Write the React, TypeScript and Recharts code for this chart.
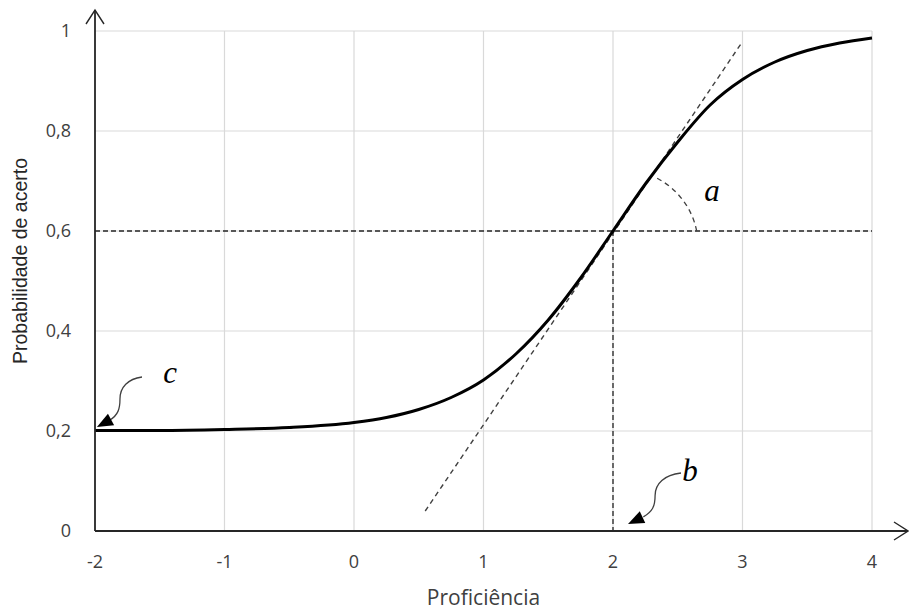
import React from 'react';
import {
  LineChart,
  Line,
  XAxis,
  YAxis,
  CartesianGrid,
  ReferenceLine,
  ReferenceDot
} from 'recharts';

// ability values (x) and probability of a correct answer
const proficiencia = [-2, -1.5, -1, -0.5, 0, 0.25, 0.5, 0.75, 1, 1.25, 1.5, 1.75, 2, 2.25, 2.5, 2.75, 3, 3.25, 3.5, 3.75, 4];
const probabilidade = [0.201, 0.201, 0.203, 0.207, 0.217, 0.227, 0.243, 0.267, 0.302, 0.354, 0.422, 0.506, 0.6, 0.694, 0.778, 0.852, 0.903, 0.938, 0.961, 0.976, 0.986];

const xTicks = [-2, -1, 0, 1, 2, 3, 4];
const yTicks = [0, 0.2, 0.4, 0.6, 0.8, 1];

// item parameters shown on the chart
const paramB = 2;
const paramP = 0.6;
const tangentStart = { x: 0.55, y: 0.04 };
const tangentEnd = { x: 2.99, y: 0.975 };
const arcStart = { x: 2.646, y: 0.6 };
const arcEnd = { x: 2.337, y: 0.706 };

// annotation arrows: start of the squiggle -> arrow tip
const arrowC = [{ x: -1.637, y: 0.308 }, { x: -1.985, y: 0.208 }];
const arrowB = [{ x: 2.525, y: 0.116 }, { x: 2.116, y: 0.014 }];
const letters = [
  { text: 'a', x: 2.764, y: 0.682 },
  { text: 'b', x: 2.595, y: 0.122 },
  { text: 'c', x: -1.42, y: 0.318 }
];

const chartData = proficiencia.map((x, i) => ({ x, p: probabilidade[i] }));

const AxisArrow = (props: any) => {
  const { x1, y1, x2, y2 } = props;
  const dx = x2 - x1;
  const dy = y2 - y1;
  const len = Math.sqrt(dx * dx + dy * dy) || 1;
  const ux = dx / len;
  const uy = dy / len;
  const back = 14;
  const half = 9;
  const bx = x2 - ux * back;
  const by = y2 - uy * back;
  return (
    <g>
      <line x1={x1} y1={y1} x2={x2} y2={y2} stroke="#262626" strokeWidth={1.8} />
      <polyline
        points={`${bx - uy * half},${by + ux * half} ${x2},${y2} ${bx + uy * half},${by - ux * half}`}
        fill="none"
        stroke="#262626"
        strokeWidth={1.4}
      />
    </g>
  );
};

const CurvedArrow = (props: any) => {
  const { x1, y1, x2, y2 } = props;
  const sx = (x2 - x1) / -45;
  const sy = (y2 - y1) / 50;
  const P = (a: number, b: number) => `${x1 + a * sx},${y1 + b * sy}`;
  const lx = x1 - 32 * sx;
  const ly = y1 + 43 * sy;
  const dx = x2 - lx;
  const dy = y2 - ly;
  const len = Math.sqrt(dx * dx + dy * dy) || 1;
  const ux = dx / len;
  const uy = dy / len;
  const bx = x2 - ux * 16;
  const by = y2 - uy * 16;
  const h = 6.5;
  return (
    <g>
      <path
        d={`M${P(0, 0)} C${P(-14, 2)} ${P(-22, 10)} ${P(-22, 22)} C${P(-22, 32)} ${P(-24, 38)} ${P(-32, 43)}`}
        fill="none"
        stroke="#404040"
        strokeWidth={1.3}
      />
      <polygon
        points={`${x2},${y2} ${bx - uy * h},${by + ux * h} ${bx + uy * h},${by - ux * h}`}
        fill="#000"
      />
    </g>
  );
};

const AngleArc = (props: any) => {
  const { x1, y1, x2, y2 } = props;
  return (
    <path
      d={`M${x1},${y1} A76,76 0 0 0 ${x2},${y2}`}
      fill="none"
      stroke="#404040"
      strokeWidth={1.3}
      strokeDasharray="5 4"
    />
  );
};

const tickStyle = { fontFamily: '"Open Sans", sans-serif', fontSize: 18, fill: '#404040' };

export default function App() {
  return (
    <div style={{ position: 'absolute', left: 0, top: 0, width: 909, height: 610, background: '#fff' }}>
      <LineChart
        width={909}
        height={610}
        data={chartData}
        margin={{ top: 31, right: 37, left: 0, bottom: 0 }}
      >
        <CartesianGrid stroke="#d9d9d9" strokeWidth={1.2} />
        <XAxis
          dataKey="x"
          type="number"
          domain={[-2, 4]}
          ticks={xTicks}
          height={79}
          axisLine={false}
          tickLine={false}
          tickSize={0}
          tickMargin={24}
          tick={tickStyle}
          label={{
            value: 'Proficiência',
            position: 'insideBottom',
            offset: 5,
            style: { fontFamily: '"Open Sans", sans-serif', fontSize: 21, fill: '#404040' }
          }}
        />
        <YAxis
          type="number"
          domain={[0, 1]}
          ticks={yTicks}
          width={95}
          axisLine={false}
          tickLine={false}
          tickSize={0}
          tickMargin={24}
          tick={tickStyle}
          tickFormatter={(v: number) => String(v).replace('.', ',')}
          label={{
            value: 'Probabilidade de acerto',
            angle: -90,
            position: 'insideLeft',
            offset: 20,
            dy: -20,
            style: { textAnchor: 'middle', fontFamily: '"Liberation Sans", Arial, sans-serif', fontSize: 19.5, fill: '#262626' }
          }}
        />
        <ReferenceLine
          segment={[{ x: -2, y: paramP }, { x: 4, y: paramP }]}
          stroke="#262626"
          strokeWidth={1.3}
          strokeDasharray="5 3"
        />
        <ReferenceLine
          segment={[{ x: paramB, y: paramP }, { x: paramB, y: 0 }]}
          stroke="#262626"
          strokeWidth={1.3}
          strokeDasharray="5 3"
        />
        <ReferenceLine
          segment={[tangentStart, tangentEnd]}
          stroke="#404040"
          strokeWidth={1.4}
          strokeDasharray="5 4"
        />
        <ReferenceLine segment={[arcStart, arcEnd]} shape={AngleArc} ifOverflow="visible" />
        <Line
          type="monotone"
          dataKey="p"
          stroke="#000"
          strokeWidth={3}
          dot={false}
          activeDot={false}
          isAnimationActive={false}
        />
        <ReferenceLine segment={[{ x: -2, y: 0 }, { x: 4.278, y: 0 }]} shape={AxisArrow} ifOverflow="visible" />
        <ReferenceLine segment={[{ x: -2, y: 0 }, { x: -2, y: 1.042 }]} shape={AxisArrow} ifOverflow="visible" />
        <ReferenceLine segment={arrowC} shape={CurvedArrow} ifOverflow="visible" />
        <ReferenceLine segment={arrowB} shape={CurvedArrow} ifOverflow="visible" />
        {letters.map((l) => (
          <ReferenceDot
            key={l.text}
            x={l.x}
            y={l.y}
            r={0}
            stroke="none"
            ifOverflow="visible"
            label={{
              value: l.text,
              position: 'center',
              style: { fontFamily: '"Liberation Serif", "DejaVu Serif", serif', fontStyle: 'italic', fontSize: 31, fill: '#000' }
            }}
          />
        ))}
      </LineChart>
    </div>
  );
}
